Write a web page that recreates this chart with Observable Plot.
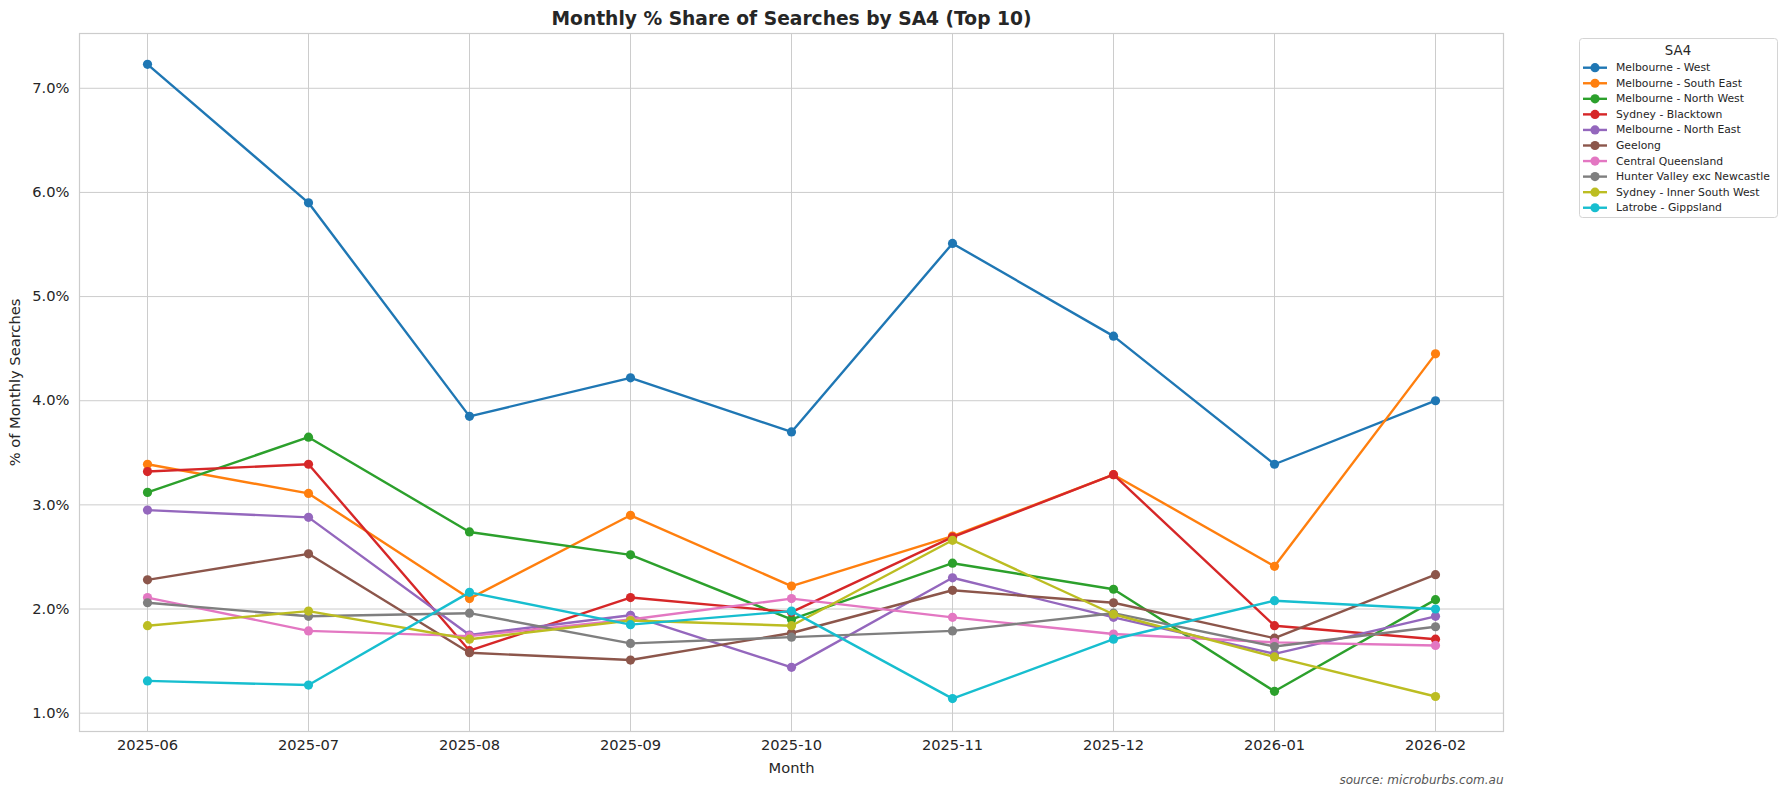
<!DOCTYPE html>
<html><head><meta charset="utf-8">
<script src="https://cdn.jsdelivr.net/npm/d3@7"></script>
<script src="https://cdn.jsdelivr.net/npm/@observablehq/plot@0.6"></script>
<style>
body{margin:0;background:#fff;}
#chart{position:relative;width:1788px;height:796px;}
</style>
</head><body><div id="chart"></div>
<script>
const months = ["2025-06","2025-07","2025-08","2025-09","2025-10","2025-11","2025-12","2026-01","2026-02"];
const seriesNames = ["Melbourne - West","Melbourne - South East","Melbourne - North West","Sydney - Blacktown","Melbourne - North East","Geelong","Central Queensland","Hunter Valley exc Newcastle","Sydney - Inner South West","Latrobe - Gippsland"];
const colors = ["#1f77b4","#ff7f0e","#2ca02c","#d62728","#9467bd","#8c564b","#e377c2","#7f7f7f","#bcbd22","#17becf"];

const melbourneWest       = [7.23, 5.90, 3.85, 4.22, 3.70, 5.51, 4.62, 3.39, 4.00];
const melbourneSouthEast  = [3.39, 3.11, 2.10, 2.90, 2.22, 2.70, 3.29, 2.41, 4.45];
const melbourneNorthWest  = [3.12, 3.65, 2.74, 2.52, 1.90, 2.44, 2.19, 1.21, 2.09];
const sydneyBlacktown     = [3.32, 3.39, 1.60, 2.11, 1.97, 2.69, 3.29, 1.84, 1.71];
const melbourneNorthEast  = [2.95, 2.88, 1.75, 1.94, 1.44, 2.30, 1.92, 1.57, 1.93];
const geelong             = [2.28, 2.53, 1.58, 1.51, 1.77, 2.18, 2.06, 1.72, 2.33];
const centralQueensland   = [2.11, 1.79, 1.74, 1.90, 2.10, 1.92, 1.76, 1.68, 1.65];
const hunterValley        = [2.06, 1.93, 1.96, 1.67, 1.73, 1.79, 1.96, 1.64, 1.83];
const sydneyInnerSW       = [1.84, 1.98, 1.71, 1.89, 1.84, 2.66, 1.95, 1.54, 1.16];
const latrobeGippsland    = [1.31, 1.27, 2.16, 1.85, 1.98, 1.14, 1.71, 2.08, 2.00];

const seriesValues = [melbourneWest, melbourneSouthEast, melbourneNorthWest, sydneyBlacktown, melbourneNorthEast, geelong, centralQueensland, hunterValley, sydneyInnerSW, latrobeGippsland];
const yTicks = [1, 2, 3, 4, 5, 6, 7];

const titleText = "Monthly % Share of Searches by SA4 (Top 10)";
const xLabel = "Month";
const yLabel = "% of Monthly Searches";
const sourceText = "source: microburbs.com.au";
const legendTitle = "SA4";

const seriesMarks = [];
seriesNames.forEach((name, i) => {
  const rows = months.map((m, j) => ({month: m, value: seriesValues[i][j], series: name}));
  seriesMarks.push(Plot.line(rows, {x: "month", y: "value", stroke: colors[i], strokeWidth: 2.4}));
  seriesMarks.push(Plot.dot(rows, {x: "month", y: "value", fill: colors[i], r: 4.6, stroke: "none"}));
});

const font = "DejaVu Sans, sans-serif";
const svg = Plot.plot({
  width: 1788, height: 796,
  marginLeft: 79, marginRight: 285, marginTop: 33, marginBottom: 65,
  style: {fontFamily: font, fontSize: "14px", color: "#262626", background: "#fff"},
  x: {type: "point", domain: months, padding: 0.4, label: null},
  y: {domain: [0.824, 7.526], label: null},
  marks: [
    Plot.gridX(months, {stroke: "#cccccc", strokeOpacity: 1, strokeWidth: 1}),
    Plot.gridY(yTicks, {stroke: "#cccccc", strokeOpacity: 1, strokeWidth: 1}),
    Plot.frame({stroke: "#cccccc", strokeWidth: 1.2}),
    ...seriesMarks,
    Plot.axisX(months, {tickSize: 0, tickPadding: 8, fontSize: 14.67, fill: "#262626", label: null}),
    Plot.axisY(yTicks, {tickSize: 0, tickPadding: 10, fontSize: 14.67, fill: "#262626", tickFormat: d => d.toFixed(1) + "%", label: null}),
    Plot.text([titleText], {frameAnchor: "top", dy: -14, lineAnchor: "middle", fontWeight: "bold", fontSize: 18.67, fill: "#262626"}),
    Plot.text([xLabel], {frameAnchor: "bottom", dy: 37, lineAnchor: "middle", fontSize: 14.67, fill: "#262626"}),
    Plot.text([yLabel], {frameAnchor: "left", dx: -64, rotate: -90, textAnchor: "middle", lineAnchor: "middle", fontSize: 14.67, fill: "#262626"}),
    Plot.text([sourceText], {frameAnchor: "bottom-right", textAnchor: "end", dy: 49, lineAnchor: "middle", fontSize: 12, fontStyle: "italic", fill: "#555555"})
  ]
});

// legend
const lg = d3.select(svg).append("g").attr("font-family", font).attr("text-anchor", "start");
lg.append("rect").attr("x", 1579.5).attr("y", 38.5).attr("width", 198).attr("height", 179)
  .attr("rx", 3).attr("fill", "#fff").attr("stroke", "#d4d4d4").attr("stroke-width", 1);
lg.append("text").attr("x", 1678).attr("y", 50).attr("text-anchor", "middle").attr("dominant-baseline", "central")
  .attr("font-size", 13.33).attr("fill", "#262626").text(legendTitle);
seriesNames.forEach((name, i) => {
  const y = 67.7 + i * 15.56;
  lg.append("line").attr("x1", 1583).attr("x2", 1607).attr("y1", y).attr("y2", y).attr("stroke", colors[i]).attr("stroke-width", 2.4);
  lg.append("circle").attr("cx", 1595).attr("cy", y).attr("r", 4.6).attr("fill", colors[i]);
  lg.append("text").attr("x", 1616).attr("y", y).attr("text-anchor", "start").attr("dominant-baseline", "central")
    .attr("font-size", 10.8).attr("fill", "#262626").text(name);
});

document.getElementById("chart").appendChild(svg);
</script>
</body></html>
